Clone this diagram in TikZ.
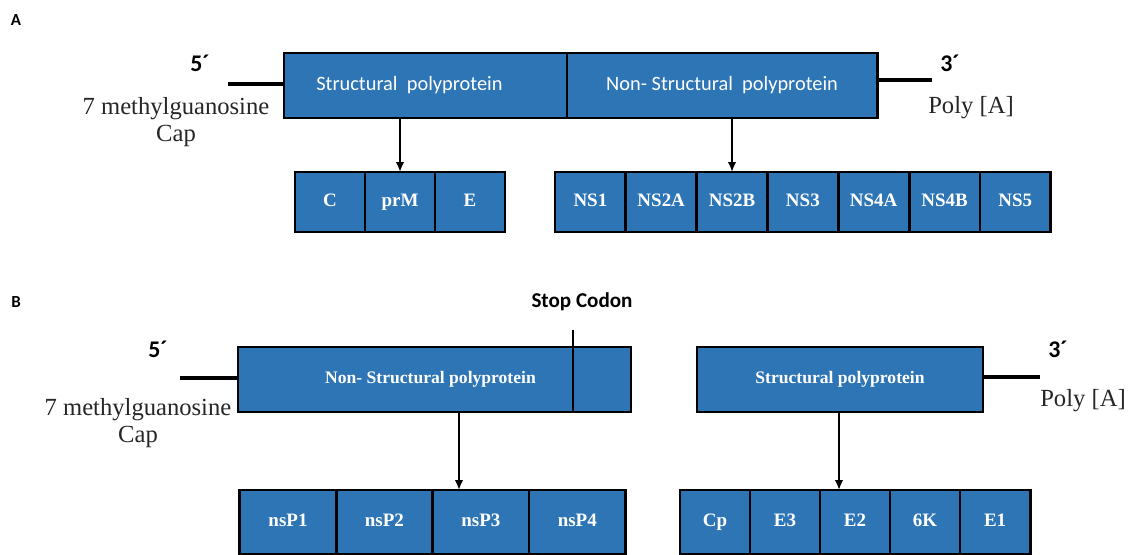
\documentclass[tikz,border=0pt]{standalone}
\usepackage{fontspec}
\setmainfont{Liberation Serif}
\newfontfamily\calfont{Carlito}
\usetikzlibrary{positioning,arrows.meta}
\definecolor{protblue}{HTML}{2E75B6}

\tikzset{
  bar/.style={draw, line width=2pt, fill=protblue, text=white,
    minimum height=1.625cm, inner sep=0pt, outer sep=0pt},
  seg/.style={draw, line width=2pt, fill=protblue, text=white,
    minimum height=1.5cm, minimum width=1.75cm, inner sep=0pt, outer sep=0pt,
    text height=1.6ex, text depth=0.3ex,
    font=\fontsize{13.5}{15}\selectfont\bfseries},
  segB/.style={seg, minimum height=1.6cm},
  tail/.style={line width=3pt},
  arr/.style={line width=1.4pt, -{Latex[length=7pt,width=6pt]}},
  prime/.style={font=\calfont\fontsize{17}{20}\selectfont\bfseries},
  endlab/.style={font=\fontsize{17.5}{19.5}\selectfont, align=center, text=black!85},
  panel/.style={font=\calfont\bfseries\fontsize{12}{14}\selectfont},
  barA/.style={bar, font=\calfont\fontsize{14.5}{17}\selectfont}
}

\begin{document}
\begin{tikzpicture}[x=0.025cm, y=-0.025cm]
\useasboundingbox (0,0) rectangle (1128,554);

% panel A
\node[panel] (labA) at (16,20) {A};
\node[barA, minimum width=7.075cm] (sA) at (425.5,85.5) {\hspace*{-0.8cm}Structural\ \ polyprotein};
\node[barA, minimum width=7.75cm, right=0pt of sA] (nsA) {Non- Structural\ \ polyprotein};

\coordinate (c5A) at (228,84);
\coordinate (c3A) at (932,80);
\draw[tail] (c5A) -- (sA.west |- c5A);
\draw[tail] (nsA.east |- c3A) -- (c3A);
\node[prime] (p5A) at (200,63) {5´};
\node[prime] (p3A) at (950,63) {3´};
\node[endlab] (capA) at (176,122) {7 methylguanosine\\Cap};
\node[endlab] (polyA) at (971,108) {Poly [A]};

\node[seg] (c) at (330,202) {C};
\node[seg, right=0pt of c] (prm) {prM};
\node[seg, right=0pt of prm] (e) {E};

\node[seg, minimum width=1.77cm] (ns1) at (590.4,202) {NS1};
\node[seg, minimum width=1.77cm, right=0pt of ns1] (ns2a) {NS2A};
\node[seg, minimum width=1.77cm, right=0pt of ns2a] (ns2b) {NS2B};
\node[seg, minimum width=1.77cm, right=0pt of ns2b] (ns3) {NS3};
\node[seg, minimum width=1.77cm, right=0pt of ns3] (ns4a) {NS4A};
\node[seg, minimum width=1.77cm, right=0pt of ns4a] (ns4b) {NS4B};
\node[seg, minimum width=1.77cm, right=0pt of ns4b] (ns5) {NS5};

\draw[arr] (sA.south -| prm.north) -- (prm.north);
\draw[arr] (nsA.south -| ns2b.north) -- (ns2b.north);

% panel B
\node[panel] (labB) at (16,302) {B};
\node[bar, minimum width=9.825cm, font=\fontsize{12.5}{15}\selectfont\bfseries] (nsB) at (434.5,379.5) {\hspace*{-0.2cm}Non- Structural polyprotein};
\node[bar, minimum width=7.15cm, font=\fontsize{12.5}{15}\selectfont\bfseries] (sB) at (840,379.5) {Structural polyprotein};

\coordinate (stop) at (573,330);
\draw[line width=2pt] (stop) -- (stop |- nsB.south);
\node[font=\calfont\fontsize{15}{18}\selectfont\bfseries] (stoplab) at (582,302) {Stop Codon};

\coordinate (c5B) at (180,378);
\coordinate (c3B) at (1040,377);
\draw[tail] (c5B) -- (nsB.west |- c5B);
\draw[tail] (sB.east |- c3B) -- (c3B);
\node[prime] (p5B) at (158,349) {5´};
\node[prime] (p3B) at (1058,349) {3´};
\node[endlab] (capB) at (138,423) {7 methylguanosine\\Cap};
\node[endlab] (polyB) at (1083,401) {Poly [A]};

\node[segB, minimum width=2.41cm] (nsp1) at (288,522) {nsP1};
\node[segB, minimum width=2.41cm, right=0pt of nsp1] (nsp2) {nsP2};
\node[segB, minimum width=2.41cm, right=0pt of nsp2] (nsp3) {nsP3};
\node[segB, minimum width=2.41cm, right=0pt of nsp3] (nsp4) {nsP4};

\node[segB] (cp) at (715,522) {Cp};
\node[segB, right=0pt of cp] (e3) {E3};
\node[segB, right=0pt of e3] (e2) {E2};
\node[segB, right=0pt of e2] (k6) {6K};
\node[segB, right=0pt of k6] (e1) {E1};

\coordinate (aNS) at (459,0);
\coordinate (aS) at (839,0);
\draw[arr] (nsB.south -| aNS) -- (nsp3.north -| aNS);
\draw[arr] (sB.south -| aS) -- (e2.north -| aS);
\end{tikzpicture}
\end{document}
